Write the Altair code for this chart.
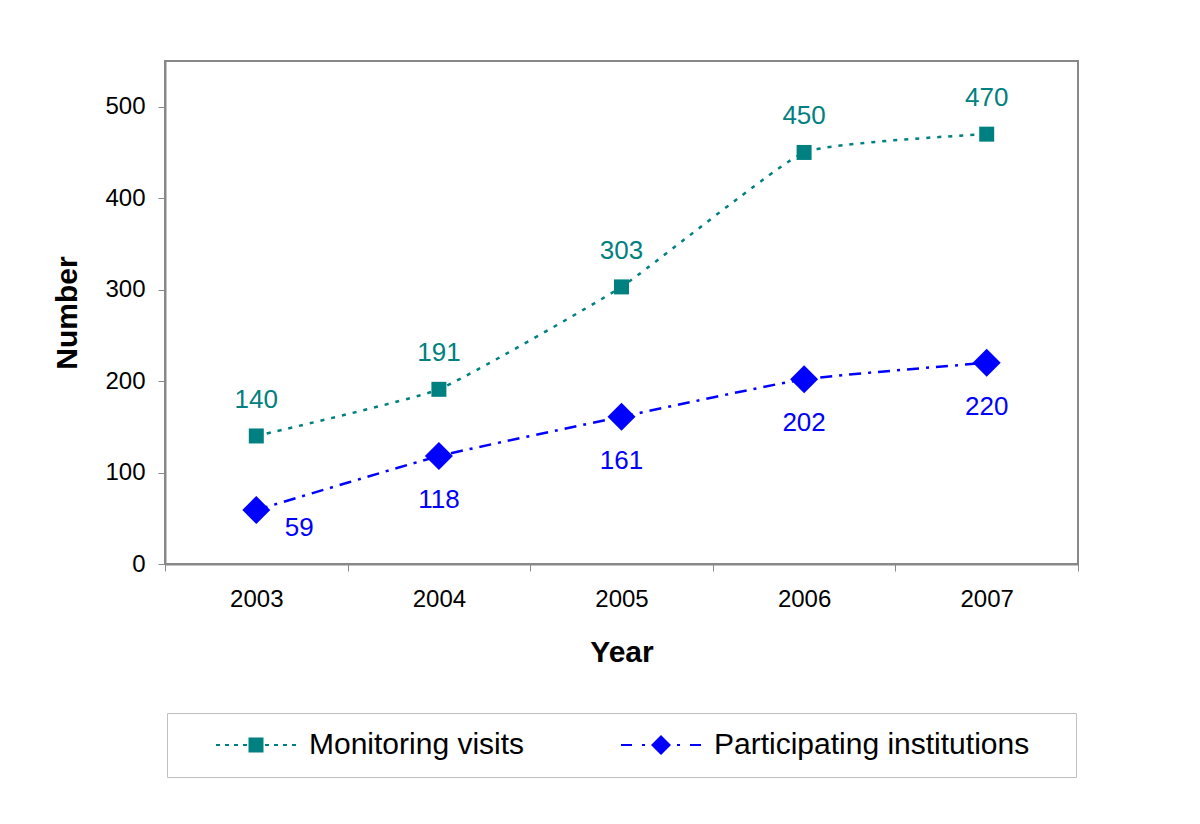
import altair as alt
import pandas as pd

years = ["2003", "2004", "2005", "2006", "2007"]
monitoring_visits = [140, 191, 303, 450, 470]
participating_institutions = [59, 118, 161, 202, 220]
series_names = ["Monitoring visits", "Participating institutions"]
series_colors = ["#008080", "#0000ff"]
y_ticks = [0, 100, 200, 300, 400, 500]

rows = []
for y, v in zip(years, monitoring_visits):
    rows.append({"year": y, "value": v, "series": series_names[0]})
for y, v in zip(years, participating_institutions):
    rows.append({"year": y, "value": v, "series": series_names[1]})
df = pd.DataFrame(rows)

FONT = "Liberation Sans"


def bar(x0, x1, h=0.1):
    return f"M{x0},{-h}H{x1}V{h}H{x0}Z"


teal_path = "".join(
    bar(a, b) for a, b in [(-4.0, -3.6), (-3.1, -2.7), (-2.2, -1.8), (-1.3, -0.9),
                           (0.9, 1.3), (1.8, 2.2), (2.7, 3.1), (3.6, 4.0)]
) + "M-0.75,-0.75H0.75V0.75H-0.75Z"
blue_path = "".join(
    bar(a, b) for a, b in [(-4.0, -2.9), (-1.9, -1.6), (1.6, 1.9), (2.9, 4.0)]
) + "M-1,0L0,-1L1,0L0,1Z" + "M39.8,0"

x_enc = alt.X(
    "year:O",
    scale=alt.Scale(type="band", paddingInner=0, paddingOuter=0),
    axis=alt.Axis(
        title="Year", labelAngle=0, tickBand="extent", labelFontSize=24,
        labelFont=FONT, labelColor="black", tickSize=7, tickColor="#888888",
        domainColor="#888888", domainWidth=2, labelPadding=16,
        titleFont=FONT, titleFontSize=30, titleFontWeight="bold",
        titleColor="black", titlePadding=26,
    ),
)
y_enc = alt.Y(
    "value:Q",
    scale=alt.Scale(domain=[0, 550], nice=False),
    axis=alt.Axis(
        title="Number", values=y_ticks, grid=False, labelFontSize=24,
        labelFont=FONT, labelColor="black", tickSize=7, tickColor="#888888",
        domainColor="#888888", domainWidth=2, labelPadding=13,
        titleFont=FONT, titleFontSize=30, titleFontWeight="bold",
        titleColor="black", titlePadding=22,
    ),
)

base = alt.Chart(df)
dashes = [[4, 7], [12, 7, 3, 7]]
shapes = ["square", "diamond"]
sizes = [225, 784]

layers = []
for i, name in enumerate(series_names):
    sub = base.transform_filter(alt.datum.series == name)
    layers.append(
        sub.mark_line(strokeWidth=2.5, interpolate="cardinal", tension=0.6,
                      strokeDash=dashes[i], color=series_colors[i]).encode(x=x_enc, y=y_enc)
    )
for i, name in enumerate(series_names):
    sub = base.transform_filter(alt.datum.series == name)
    layers.append(
        sub.mark_point(filled=True, opacity=1, shape=shapes[i], size=sizes[i],
                       color=series_colors[i]).encode(x=x_enc, y=y_enc)
    )

text_common = dict(font=FONT, fontSize=26, align="center", baseline="alphabetic")
layers.append(
    base.transform_filter(alt.datum.series == series_names[0])
    .mark_text(dy=-28, color=series_colors[0], **text_common)
    .encode(x=x_enc, y=y_enc, text="value:Q")
)
layers.append(
    base.transform_filter((alt.datum.series == series_names[1]) & (alt.datum.year != years[0]))
    .mark_text(dy=52, color=series_colors[1], **text_common)
    .encode(x=x_enc, y=y_enc, text="value:Q")
)
layers.append(
    base.transform_filter((alt.datum.series == series_names[1]) & (alt.datum.year == years[0]))
    .mark_text(dx=43, dy=26, color=series_colors[1], **text_common)
    .encode(x=x_enc, y=y_enc, text="value:Q")
)

legend = alt.Legend(
    title=None, orient="none", legendX=2, legendY=652, direction="horizontal",
    labelFont=FONT, labelFontSize=30, labelColor="black", labelLimit=1000,
    symbolSize=400, symbolStrokeWidth=0, labelOffset=38, symbolOffset=57,
    columnPadding=64, padding=17, strokeColor="#c0c0c0", fillColor="white",
    symbolOpacity=1,
)

# invisible layer that only drives the legend
legend_layer = base.mark_point(filled=True, opacity=0, size=400).encode(
    x=x_enc,
    y=y_enc,
    color=alt.Color("series:N", scale=alt.Scale(domain=series_names, range=series_colors), legend=legend),
    shape=alt.Shape("series:N", scale=alt.Scale(domain=series_names, range=[teal_path, blue_path]), legend=legend),
)
layers.append(legend_layer)

chart = alt.layer(*layers).properties(
    width=913,
    height=503,
    autosize=alt.AutoSizeParams(type="none"),
    padding={"left": 157, "top": 53, "right": 100, "bottom": 250},
    background="white",
).configure_view(
    stroke="#888888", strokeWidth=2
)

chart.save("out.html", embed_options={"renderer": "svg", "actions": False})
